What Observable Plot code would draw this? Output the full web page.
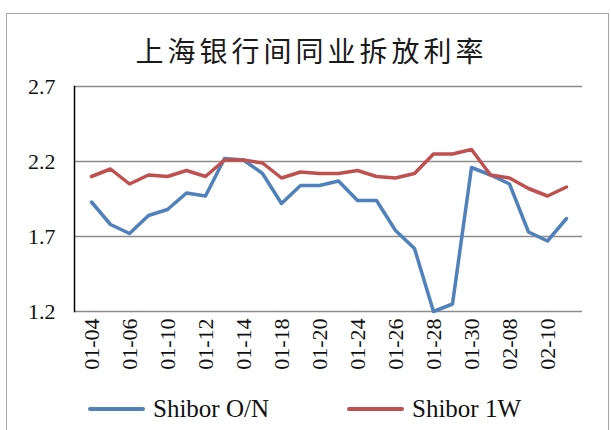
<!DOCTYPE html>
<html>
<head>
<meta charset="utf-8">
<script src="https://cdn.jsdelivr.net/npm/d3@7"></script>
<script src="https://cdn.jsdelivr.net/npm/@observablehq/plot@0.6"></script>
<style>
  html, body { margin: 0; padding: 0; background: #fff; }
  #wrap { position: relative; width: 611px; height: 430px; overflow: hidden; }
  #border { position: absolute; left: 6px; top: 13px; width: 603px; height: 440px;
            border: 1.5px solid #a6a6a6; box-sizing: border-box; }
  #title { position: absolute; left: 0; top: 30px; width: 611px; text-align: center;
           font-family: "Noto Sans CJK SC", sans-serif; font-size: 28px; letter-spacing: 4px;
           line-height: 40px; color: #1a1a1a; padding-left: 12px; box-sizing: border-box; }
  #chart { position: absolute; left: 0; top: 70px; }
  #chart svg text { font-family: "Liberation Serif", "Times New Roman", serif; }
  #legend { position: absolute; left: 0; top: 392px; width: 611px; height: 34px;
            font-family: "Liberation Serif", "Times New Roman", serif; font-size: 25px; color: #111; }
  .item { position: absolute; top: 0; display: flex; align-items: center; height: 34px; }
  .swatch { display: inline-block; width: 57px; height: 4px; border-radius: 2px; margin-right: 8px; }
</style>
</head>
<body>
<div id="wrap">
  <div id="border"></div>
  <div id="title">上海银行间同业拆放利率</div>
  <div id="chart"></div>
  <div id="legend"></div>
</div>
<script>
const categories = ["01-04","01-05","01-06","01-07","01-10","01-11","01-12","01-13","01-14","01-17","01-18","01-19","01-20","01-21","01-24","01-25","01-26","01-27","01-28","01-29","01-30","01-31","02-08","02-09","02-10","02-11"];
const tickLabels = ["01-04","01-06","01-10","01-12","01-14","01-18","01-20","01-24","01-26","01-28","01-30","02-08","02-10"];
const yTicks = [1.2, 1.7, 2.2, 2.7];
const seriesNames = ["Shibor O/N", "Shibor 1W"];
const seriesColors = ["#4f81bd", "#c0504d"];
const onValues = [1.93,1.78,1.72,1.84,1.88,1.99,1.97,2.22,2.21,2.12,1.92,2.04,2.04,2.07,1.94,1.94,1.74,1.62,1.20,1.25,2.16,2.11,2.05,1.73,1.67,1.82];
const w1Values = [2.10,2.15,2.05,2.11,2.10,2.14,2.10,2.21,2.21,2.19,2.09,2.13,2.12,2.12,2.14,2.10,2.09,2.12,2.25,2.25,2.28,2.11,2.09,2.02,1.97,2.03];

const table = [];
categories.forEach((c, i) => {
  table.push({date: c, value: onValues[i], series: seriesNames[0]});
});
categories.forEach((c, i) => {
  table.push({date: c, value: w1Values[i], series: seriesNames[1]});
});

const chart = Plot.plot({
  width: 611,
  height: 310,
  marginTop: 16,
  marginBottom: 69,
  marginLeft: 74,
  marginRight: 29,
  style: {fontFamily: "'Liberation Serif', 'Times New Roman', serif", background: "transparent", color: "#111"},
  x: {type: "point", domain: categories, padding: 0.5, label: null},
  y: {domain: [1.2, 2.7], label: null},
  color: {domain: seriesNames, range: seriesColors},
  marks: [
    Plot.ruleY(yTicks, {stroke: "#8c8c8c", strokeWidth: 1.5}),
    Plot.frame({anchor: "left", stroke: "#000", strokeWidth: 1.5}),
    Plot.axisY({ticks: yTicks, tickSize: 0, tickPadding: 19, tickFormat: d3.format(".1f"), fontSize: 22, label: null}),
    Plot.axisX({ticks: tickLabels, tickSize: 0, tickPadding: 7, tickRotate: -90, fontSize: 22, label: null}),
    Plot.line(table, {x: "date", y: "value", z: "series", stroke: "series", strokeWidth: 3.5, strokeLinejoin: "round"})
  ]
});
document.getElementById("chart").appendChild(chart);

const legend = document.getElementById("legend");
const lefts = [88, 347];
seriesNames.forEach((name, i) => {
  const item = document.createElement("div");
  item.className = "item";
  item.style.left = lefts[i] + "px";
  const sw = document.createElement("span");
  sw.className = "swatch";
  sw.style.background = seriesColors[i];
  item.appendChild(sw);
  item.appendChild(document.createTextNode(name));
  legend.appendChild(item);
});
</script>
</body>
</html>
